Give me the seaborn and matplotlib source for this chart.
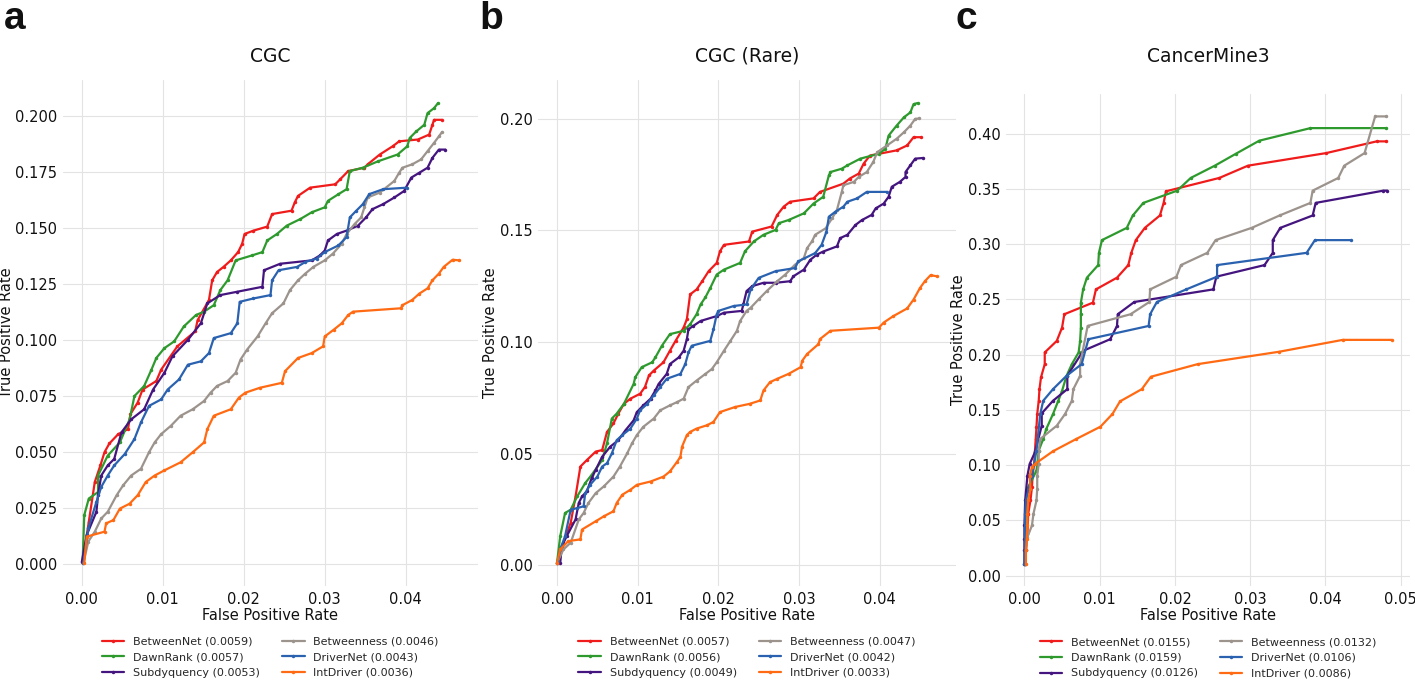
import matplotlib
matplotlib.use("Agg")
import matplotlib.pyplot as plt
from matplotlib.ticker import FormatStrFormatter
import seaborn as sns

# ---- panel a: CGC ----
a_betweennet = [(0.0001,0.001),(0.00086,0.0189),(0.0016,0.0367),(0.0023,0.0442),(0.0028,0.050),(0.0034,0.0539),(0.0045,0.0581),(0.0057,0.0603),(0.006,0.067),(0.0069,0.0722),(0.0075,0.078),(0.0092,0.0818),(0.0098,0.0869),(0.0118,0.0973),(0.014,0.104),(0.0143,0.109),(0.0157,0.118),(0.0161,0.1268),(0.0167,0.1305),(0.0175,0.1328),(0.0184,0.1357),(0.0193,0.1394),(0.0198,0.1431),(0.0201,0.1475),(0.0212,0.149),(0.0229,0.1508),(0.0235,0.1564),(0.0259,0.1579),(0.0263,0.1616),(0.0267,0.1645),(0.0282,0.1682),(0.0313,0.1697),(0.0319,0.1719),(0.0329,0.1756),(0.0349,0.1771),(0.0353,0.1786),(0.0368,0.183),(0.0384,0.1867),(0.0392,0.1889),(0.0415,0.1897),(0.0429,0.1919),(0.0433,0.1963),(0.0435,0.1985),(0.0445,0.1985)]
a_dawnrank = [(0.0001,0.001),(0.0003,0.0219),(0.00086,0.0293),(0.002,0.0322),(0.002,0.0396),(0.0032,0.0485),(0.0047,0.0544),(0.0059,0.0647),(0.0065,0.0751),(0.0077,0.0796),(0.0086,0.0869),(0.0092,0.0921),(0.0102,0.0965),(0.0114,0.0995),(0.0126,0.1062),(0.0141,0.1113),(0.0151,0.1128),(0.0163,0.1157),(0.0171,0.1224),(0.018,0.1268),(0.019,0.1357),(0.021,0.1379),(0.0223,0.1394),(0.0229,0.1446),(0.0241,0.1475),(0.0253,0.1512),(0.027,0.1542),(0.0284,0.1572),(0.03,0.1594),(0.0304,0.1623),(0.0317,0.1653),(0.0327,0.1675),(0.0331,0.1756),(0.0347,0.1771),(0.0366,0.18),(0.039,0.183),(0.0402,0.1867),(0.0405,0.1904),(0.0413,0.1933),(0.0423,0.1963),(0.0427,0.2015),(0.0435,0.2037),(0.044,0.206)]
a_subdyquency = [(0.0,0.001),(0.0006,0.013),(0.0018,0.0234),(0.002,0.0308),(0.0024,0.0396),(0.0032,0.0441),(0.004,0.047),(0.0049,0.0589),(0.0061,0.0647),(0.0077,0.0692),(0.0088,0.078),(0.0102,0.0855),(0.0112,0.0929),(0.0131,0.1002),(0.0147,0.1076),(0.0155,0.1165),(0.0171,0.1202),(0.0192,0.1217),(0.0223,0.1239),(0.0225,0.1313),(0.0245,0.1342),(0.0284,0.1357),(0.0294,0.1379),(0.03,0.1401),(0.0304,0.1446),(0.0315,0.1475),(0.0327,0.149),(0.0341,0.1512),(0.0351,0.1549),(0.0359,0.1586),(0.0372,0.1608),(0.0386,0.1638),(0.0398,0.1667),(0.0407,0.1727),(0.0417,0.1749),(0.0427,0.1771),(0.0433,0.1815),(0.0441,0.1852),(0.0449,0.1852)]
a_betweenness = [(0.0002,0.0005),(0.0008,0.0101),(0.0016,0.0145),(0.0024,0.0204),(0.0032,0.0234),(0.0043,0.0308),(0.0051,0.0352),(0.0061,0.0396),(0.0073,0.0426),(0.0083,0.05),(0.009,0.0544),(0.0098,0.0581),(0.011,0.0618),(0.0122,0.0663),(0.0137,0.0692),(0.0151,0.0729),(0.0159,0.0766),(0.0167,0.0796),(0.018,0.0818),(0.019,0.0855),(0.0196,0.0914),(0.0204,0.0958),(0.0217,0.1017),(0.0227,0.1076),(0.0235,0.1121),(0.0249,0.1165),(0.0257,0.1224),(0.0267,0.1268),(0.0276,0.1298),(0.0286,0.1328),(0.03,0.1357),(0.031,0.1387),(0.0321,0.1431),(0.0327,0.1475),(0.0337,0.152),(0.0345,0.1549),(0.0349,0.1594),(0.0353,0.1638),(0.0368,0.166),(0.0386,0.1712),(0.0392,0.1749),(0.0396,0.1771),(0.0408,0.1786),(0.0419,0.1808),(0.0427,0.1845),(0.0435,0.1882),(0.0441,0.1911),(0.0445,0.1931)]
a_drivernet = [(0.0002,0.0005),(0.0008,0.016),(0.0018,0.0278),(0.0024,0.0345),(0.0032,0.0396),(0.004,0.0441),(0.0053,0.0492),(0.0065,0.0559),(0.0073,0.0633),(0.0083,0.0707),(0.0098,0.0736),(0.0106,0.078),(0.012,0.0825),(0.0131,0.0891),(0.0147,0.0906),(0.0157,0.0943),(0.0163,0.101),(0.0184,0.1032),(0.0192,0.1076),(0.0195,0.1172),(0.0212,0.1187),(0.0233,0.1202),(0.0235,0.1268),(0.0243,0.1313),(0.0266,0.1328),(0.0276,0.135),(0.029,0.1365),(0.03,0.1394),(0.0317,0.1424),(0.0327,0.1461),(0.0331,0.1549),(0.0339,0.1579),(0.0347,0.1608),(0.0355,0.1653),(0.0372,0.1675),(0.0402,0.1682)]
a_intdriver = [(0.0003,0.0005),(0.0006,0.0123),(0.0028,0.0145),(0.003,0.0182),(0.0039,0.0197),(0.0047,0.0248),(0.0059,0.027),(0.0069,0.0308),(0.0079,0.0367),(0.009,0.0396),(0.0102,0.0419),(0.0122,0.0455),(0.0137,0.05),(0.0151,0.0544),(0.0155,0.0603),(0.0163,0.0663),(0.0184,0.0692),(0.0194,0.0744),(0.0202,0.0766),(0.022,0.0788),(0.0247,0.081),(0.0251,0.0862),(0.0267,0.0921),(0.0284,0.0943),(0.0298,0.0973),(0.03,0.1017),(0.0311,0.1047),(0.0321,0.1076),(0.0329,0.1113),(0.0335,0.1128),(0.0394,0.1143),(0.0396,0.1157),(0.0408,0.118),(0.0417,0.1209),(0.0427,0.1232),(0.0433,0.1268),(0.0441,0.1298),(0.0447,0.1328),(0.0458,0.136),(0.0466,0.1357)]
a_auc = [0.0059, 0.0057, 0.0053, 0.0046, 0.0043, 0.0036]

# ---- panel b: CGC (Rare) ----
b_betweennet = [(0.0,0.001),(0.0008,0.0101),(0.0017,0.019),(0.0023,0.0308),(0.0029,0.0442),(0.0037,0.0471),(0.0048,0.0509),(0.0056,0.0516),(0.0062,0.0597),(0.007,0.0635),(0.0076,0.0679),(0.0083,0.0723),(0.0091,0.0746),(0.0103,0.0768),(0.0109,0.0798),(0.0114,0.085),(0.012,0.0872),(0.0132,0.0909),(0.014,0.0961),(0.0147,0.1005),(0.0157,0.1065),(0.0161,0.1102),(0.0165,0.1213),(0.0173,0.1235),(0.018,0.1272),(0.0188,0.1317),(0.0198,0.1354),(0.0202,0.1406),(0.0207,0.1435),(0.0238,0.145),(0.0242,0.1494),(0.0266,0.1517),(0.0273,0.1569),(0.0281,0.1606),(0.0289,0.1628),(0.0318,0.1643),(0.0326,0.1672),(0.0355,0.1709),(0.0363,0.1732),(0.0374,0.1754),(0.038,0.1798),(0.0388,0.1835),(0.0421,0.1858),(0.0434,0.188),(0.0442,0.1917),(0.0451,0.1917)]
b_dawnrank = [(0.0,0.001),(0.0004,0.013),(0.001,0.0234),(0.0017,0.0249),(0.0025,0.0308),(0.0035,0.0368),(0.0043,0.0405),(0.0056,0.0471),(0.0062,0.0546),(0.0068,0.0657),(0.0074,0.0679),(0.0083,0.0723),(0.0095,0.0812),(0.0097,0.0842),(0.0105,0.0887),(0.0118,0.0909),(0.0122,0.0931),(0.013,0.0983),(0.014,0.1035),(0.0157,0.105),(0.0165,0.1079),(0.0173,0.1124),(0.0178,0.1168),(0.0184,0.1200),(0.019,0.1242),(0.0198,0.1302),(0.0207,0.1324),(0.0227,0.1354),(0.0233,0.1406),(0.0244,0.145),(0.0256,0.148),(0.0271,0.1502),(0.0275,0.1532),(0.0287,0.1546),(0.0306,0.1576),(0.0318,0.162),(0.033,0.165),(0.0337,0.1746),(0.0339,0.1761),(0.0353,0.1776),(0.036,0.1791),(0.0376,0.1821),(0.0399,0.1843),(0.0407,0.1865),(0.0411,0.1924),(0.0421,0.1969),(0.043,0.2006),(0.0438,0.2028),(0.0442,0.2065),(0.0447,0.207)]
b_subdyquency = [(0.0004,0.001),(0.0006,0.0086),(0.0012,0.013),(0.0023,0.0205),(0.0027,0.0279),(0.0031,0.0308),(0.0037,0.0331),(0.0043,0.039),(0.0048,0.0427),(0.0056,0.0486),(0.0066,0.0531),(0.0076,0.056),(0.0085,0.0605),(0.0095,0.0649),(0.0099,0.0686),(0.0107,0.0716),(0.0116,0.0746),(0.0122,0.0783),(0.0126,0.0812),(0.0136,0.0857),(0.014,0.0901),(0.0151,0.0931),(0.0157,0.0961),(0.0161,0.1013),(0.0163,0.1057),(0.0169,0.1072),(0.0178,0.1094),(0.0198,0.1116),(0.0207,0.1131),(0.0229,0.1139),(0.0231,0.1168),(0.0235,0.1228),(0.0242,0.125),(0.0256,0.1265),(0.0271,0.1265),(0.0289,0.1272),(0.0293,0.1294),(0.0306,0.1324),(0.0314,0.1368),(0.0322,0.1391),(0.033,0.1405),(0.0347,0.1428),(0.0351,0.1465),(0.036,0.148),(0.037,0.1524),(0.0378,0.1546),(0.039,0.1569),(0.0395,0.1598),(0.0405,0.162),(0.0411,0.165),(0.0415,0.1695),(0.0425,0.1717),(0.0432,0.1739),(0.0432,0.1761),(0.0438,0.1791),(0.0444,0.1821),(0.0454,0.1824)]
b_betweenness = [(0.0,0.001),(0.0008,0.0071),(0.0017,0.0101),(0.0027,0.0205),(0.0033,0.0234),(0.0039,0.0279),(0.0048,0.0323),(0.0058,0.0353),(0.007,0.0397),(0.0078,0.0442),(0.0087,0.0501),(0.0093,0.0546),(0.0099,0.0583),(0.0107,0.062),(0.012,0.0657),(0.0128,0.0694),(0.014,0.0716),(0.0149,0.0731),(0.0157,0.0746),(0.0163,0.0798),(0.0173,0.0827),(0.0184,0.0857),(0.0192,0.0879),(0.0198,0.0909),(0.0207,0.0961),(0.0215,0.1005),(0.0223,0.105),(0.0227,0.1094),(0.0235,0.1139),(0.024,0.1153),(0.025,0.1191),(0.026,0.1228),(0.0273,0.1272),(0.0283,0.1302),(0.0295,0.1346),(0.0306,0.1376),(0.031,0.142),(0.0316,0.145),(0.032,0.148),(0.0333,0.1509),(0.0341,0.1554),(0.0347,0.1591),(0.0353,0.1672),(0.0355,0.1702),(0.0368,0.1717),(0.0374,0.1739),(0.0384,0.1761),(0.0392,0.1806),(0.0397,0.185),(0.0409,0.188),(0.0421,0.191),(0.043,0.1939),(0.0438,0.1969),(0.0444,0.1999),(0.0449,0.2001)]
b_drivernet = [(0.0001,0.0019),(0.0004,0.0071),(0.001,0.013),(0.0017,0.0249),(0.0025,0.0256),(0.0033,0.0264),(0.0035,0.0323),(0.0041,0.036),(0.005,0.0397),(0.0056,0.0442),(0.0062,0.0457),(0.0068,0.0501),(0.0074,0.056),(0.0081,0.0583),(0.0091,0.0612),(0.0099,0.0657),(0.0103,0.0694),(0.0112,0.0723),(0.012,0.0761),(0.0128,0.0798),(0.0136,0.0835),(0.0153,0.0857),(0.0159,0.0901),(0.0163,0.0953),(0.0167,0.0983),(0.019,0.1005),(0.0194,0.1057),(0.0198,0.1124),(0.02,0.1139),(0.0219,0.1161),(0.0235,0.1168),(0.024,0.1235),(0.025,0.1287),(0.0271,0.1317),(0.0295,0.1331),(0.0299,0.1361),(0.032,0.1398),(0.0328,0.1435),(0.0334,0.1494),(0.0337,0.1561),(0.0345,0.1583),(0.0355,0.1606),(0.036,0.1628),(0.0372,0.1643),(0.0384,0.1672),(0.0409,0.1672)]
b_intdriver = [(0.0,0.001),(0.0004,0.0071),(0.0014,0.0108),(0.0029,0.0116),(0.0031,0.016),(0.0048,0.0197),(0.0058,0.0219),(0.007,0.0242),(0.0074,0.0279),(0.0081,0.0316),(0.0091,0.0338),(0.0099,0.036),(0.0116,0.0375),(0.0132,0.0397),(0.014,0.042),(0.0149,0.0464),(0.0153,0.0486),(0.0155,0.0531),(0.0161,0.0583),(0.0165,0.0597),(0.0173,0.0612),(0.0186,0.0627),(0.0194,0.0642),(0.0202,0.0686),(0.0221,0.0709),(0.0239,0.0723),(0.0252,0.0738),(0.0256,0.0783),(0.0264,0.082),(0.0273,0.0835),(0.0287,0.0857),(0.0302,0.0887),(0.0304,0.0916),(0.031,0.0946),(0.0324,0.099),(0.0326,0.1013),(0.0339,0.105),(0.0399,0.1064),(0.0405,0.1087),(0.0417,0.1116),(0.0434,0.1150),(0.0442,0.119),(0.045,0.1242),(0.0456,0.1272),(0.0463,0.1299),(0.0471,0.1294)]
b_auc = [0.0057, 0.0056, 0.0049, 0.0047, 0.0042, 0.0033]

# ---- panel c: CancerMine3 ----
c_betweennet = [(0.0001,0.0108),(0.0002,0.0229),(0.0004,0.0379),(0.0005,0.056),(0.0008,0.068),(0.001,0.0801),(0.0011,0.0921),(0.0013,0.1011),(0.0014,0.1132),(0.0015,0.1237),(0.0016,0.1342),(0.0017,0.1463),(0.0019,0.1583),(0.002,0.1688),(0.0022,0.1794),(0.0027,0.1914),(0.0027,0.202),(0.0043,0.2125),(0.005,0.2245),(0.0053,0.2366),(0.0091,0.2471),(0.0095,0.2591),(0.0123,0.2697),(0.0138,0.2811),(0.0142,0.2922),(0.0148,0.3037),(0.016,0.3148),(0.018,0.326),(0.0185,0.3374),(0.0188,0.3479),(0.0259,0.36),(0.0297,0.3711),(0.0401,0.3825),(0.0468,0.3931),(0.0481,0.3931)]
c_dawnrank = [(0.0001,0.0108),(0.0001,0.0379),(0.0002,0.068),(0.0004,0.0786),(0.0016,0.0951),(0.0019,0.1132),(0.0025,0.1237),(0.0029,0.1327),(0.0038,0.1463),(0.0045,0.1583),(0.005,0.1673),(0.0056,0.1809),(0.0063,0.1914),(0.0072,0.202),(0.0074,0.2125),(0.0075,0.2245),(0.0075,0.2366),(0.0075,0.2471),(0.0078,0.2591),(0.0083,0.2697),(0.0098,0.2811),(0.0099,0.2922),(0.0103,0.3037),(0.0136,0.3148),(0.0144,0.326),(0.0158,0.3374),(0.0203,0.3485),(0.0221,0.36),(0.0253,0.3711),(0.0281,0.3819),(0.0312,0.3937),(0.038,0.4051),(0.0481,0.4051)]
c_subdyquency = [(0.0,0.0108),(0.0,0.0229),(0.0,0.0334),(0.0,0.0454),(0.0001,0.068),(0.0004,0.0906),(0.0007,0.1011),(0.0014,0.1117),(0.0023,0.1357),(0.0023,0.1469),(0.0038,0.1583),(0.0057,0.1688),(0.0057,0.1809),(0.0078,0.2035),(0.0114,0.214),(0.0123,0.226),(0.0124,0.2366),(0.0146,0.2477),(0.0251,0.2591),(0.0255,0.2706),(0.0319,0.2811),(0.033,0.2922),(0.033,0.3037),(0.034,0.3148),(0.0383,0.326),(0.0387,0.3374),(0.0477,0.3485),(0.0482,0.3485)]
c_betweenness = [(0.0001,0.0108),(0.0002,0.0229),(0.0004,0.0349),(0.001,0.0454),(0.0012,0.056),(0.0016,0.068),(0.0017,0.0786),(0.0017,0.0906),(0.0019,0.1011),(0.0019,0.1132),(0.0021,0.1237),(0.0043,0.1357),(0.0054,0.1463),(0.0063,0.1583),(0.0065,0.1688),(0.0074,0.1809),(0.0074,0.1914),(0.0084,0.226),(0.0141,0.2366),(0.0166,0.2477),(0.0167,0.2591),(0.0202,0.2706),(0.0208,0.2811),(0.0243,0.2922),(0.0254,0.3037),(0.0302,0.3148),(0.0339,0.326),(0.038,0.3374),(0.0383,0.3485),(0.0417,0.36),(0.0425,0.3711),(0.0452,0.3825),(0.0466,0.4157),(0.0481,0.4157)]
c_drivernet = [(0.0,0.0108),(0.0001,0.056),(0.0002,0.068),(0.001,0.0906),(0.0016,0.1132),(0.0021,0.1463),(0.0025,0.1583),(0.0038,0.1688),(0.0056,0.1809),(0.0076,0.1914),(0.0085,0.214),(0.0165,0.226),(0.0167,0.2366),(0.0176,0.2477),(0.0215,0.2591),(0.0256,0.2706),(0.0256,0.2811),(0.0375,0.2922),(0.0386,0.3037),(0.0434,0.3037)]
c_intdriver = [(0.0002,0.0108),(0.0002,0.0229),(0.0003,0.0334),(0.0004,0.0454),(0.0004,0.056),(0.0005,0.068),(0.0008,0.0786),(0.0007,0.0906),(0.001,0.0981),(0.0014,0.1011),(0.0038,0.1126),(0.0069,0.1237),(0.0101,0.1348),(0.0117,0.1463),(0.0127,0.1577),(0.0156,0.1688),(0.0168,0.18),(0.023,0.1914),(0.0338,0.2026),(0.0423,0.2134),(0.0488,0.2134)]
c_auc = [0.0155, 0.0159, 0.0126, 0.0132, 0.0106, 0.0086]

methods = ["BetweenNet", "DawnRank", "Subdyquency", "Betweenness", "DriverNet", "IntDriver"]
colors = ["#f01c1c", "#2e9a2e", "#45157f", "#9b938c", "#2b62b0", "#ff6a12"]

sns.set_style("whitegrid", {"grid.color": "#e3e3e3"})
plt.rcParams["font.family"] = ["DejaVu Sans"]

fig = plt.figure(figsize=(14.15, 6.8), dpi=100)


def draw_panel(rect, curves, aucs, title, yticks, yfmt, xticks, title_pad, leg_y):
    ax = fig.add_axes(rect)
    for name, pts, auc, col in zip(methods, curves, aucs, colors):
        xs = [p[0] for p in pts]
        ys = [p[1] for p in pts]
        sns.lineplot(x=xs, y=ys, ax=ax, color=col, sort=False, estimator=None,
                     marker=".", markersize=5, markeredgewidth=0, linewidth=1.6,
                     label=f"{name} ({auc})")
    for s in ax.spines.values():
        s.set_visible(False)
    ax.set_yticks(yticks)
    ax.set_xticks(xticks)
    ax.yaxis.set_major_formatter(FormatStrFormatter(yfmt))
    ax.xaxis.set_major_formatter(FormatStrFormatter("%.2f"))
    ax.tick_params(labelsize=10.5, length=0, pad=4, colors="#111111")
    ax.set_xlabel("False Positive Rate", fontsize=10.5, labelpad=1, color="#111111")
    ax.set_ylabel("True Positive Rate", fontsize=10.5, labelpad=1, color="#111111")
    ax.set_title(title, fontsize=13.5, pad=title_pad, color="#111111")
    ax.legend(loc="upper center", bbox_to_anchor=(0.5, leg_y), ncol=2, frameon=False,
              fontsize=8, labelspacing=0.5, columnspacing=2.0, handlelength=2.0)
    return ax


draw_panel([0.0445, 0.1382, 0.2933, 0.7441],
           [a_betweennet, a_dawnrank, a_subdyquency, a_betweenness, a_drivernet, a_intdriver],
           a_auc, "CGC", [0, 0.025, 0.05, 0.075, 0.1, 0.125, 0.15, 0.175, 0.2], "%.3f",
           [0, 0.01, 0.02, 0.03, 0.04], 13, -0.080)
draw_panel([0.3802, 0.1382, 0.2954, 0.7441],
           [b_betweennet, b_dawnrank, b_subdyquency, b_betweenness, b_drivernet, b_intdriver],
           b_auc, "CGC (Rare)", [0, 0.05, 0.1, 0.15, 0.2], "%.2f",
           [0, 0.01, 0.02, 0.03, 0.04], 13, -0.080)
draw_panel([0.711, 0.1382, 0.2855, 0.7235],
           [c_betweennet, c_dawnrank, c_subdyquency, c_betweenness, c_drivernet, c_intdriver],
           c_auc, "CancerMine3", [0, 0.05, 0.1, 0.15, 0.2, 0.25, 0.3, 0.35, 0.4], "%.2f",
           [0, 0.01, 0.02, 0.03, 0.04, 0.05], 23, -0.084)

for letter, xpos in [("a", 0.003), ("b", 0.339), ("c", 0.675)]:
    fig.text(xpos, 0.957, letter, fontsize=28, fontweight="bold",
             family=["Liberation Sans", "DejaVu Sans"], va="baseline", color="#111111")

fig.savefig("out.png", dpi=100)
